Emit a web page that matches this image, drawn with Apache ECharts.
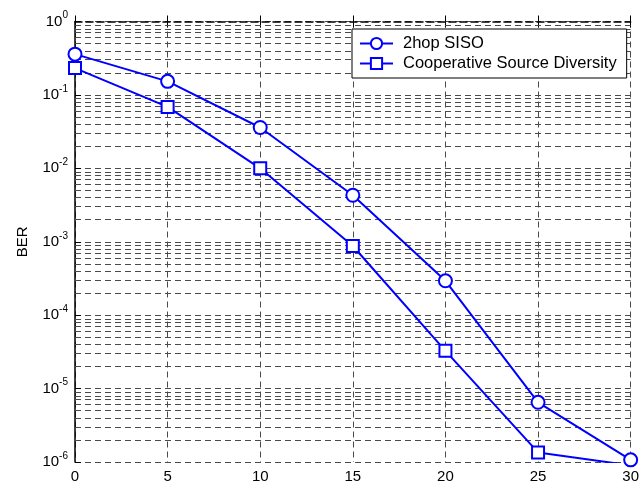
<!DOCTYPE html>
<html>
<head>
<meta charset="utf-8">
<script src="https://cdn.jsdelivr.net/npm/echarts@6/dist/echarts.min.js"></script>
<style>
html,body{margin:0;padding:0;background:#fff;}
#c{width:642px;height:484px;}
</style>
</head>
<body>
<div id="c"></div>
<script>
var snr = [0, 5, 10, 15, 20, 25, 30];
var berSiso = [0.359, 0.153, 0.036, 0.0043, 2.94e-4, 6.5e-6, 1.07e-6];
var berCoop = [0.232, 0.0687, 0.010, 8.75e-4, 3.27e-5, 1.35e-6, 9.0e-7];
var seriesNames = ['2hop SISO', 'Cooperative Source Diversity'];
var decadeExponents = [-6, -5, -4, -3, -2, -1];
var minorMultipliers = [2, 3, 4, 5, 6, 7, 8, 9];

// minor grid positions expressed in log10 space (for a hidden linear helper axis)
var minorGrid = [];
decadeExponents.forEach(function (k) {
  minorMultipliers.forEach(function (m) {
    minorGrid.push({ yAxis: Math.log10(m) + k });
  });
});

function pairs(xs, ys) {
  return xs.map(function (x, i) { return [x, ys[i]]; });
}

var FONT = 'Liberation Sans, Arial, sans-serif';
var gridDash = { color: '#4a4a4a', width: 1, type: [6, 4] };

var chart = echarts.init(document.getElementById('c'), null, { renderer: 'canvas' });
chart.setOption({
  animation: false,
  backgroundColor: '#fff',
  textStyle: { fontFamily: FONT },
  grid: { left: 75, right: 3, top: 21.5, bottom: 20 },
  legend: {
    data: seriesNames,
    orient: 'vertical',
    left: 352,
    top: 29,
    z: 50,
    padding: [6, 10, 6, 7],
    itemWidth: 33,
    itemHeight: 14,
    itemGap: 3,
    backgroundColor: '#fff',
    borderColor: '#000',
    borderWidth: 1,
    borderRadius: 0,
    textStyle: { fontSize: 16.5, color: '#000', padding: [0, 0, 0, 5], fontFamily: FONT }
  },
  xAxis: [{
    type: 'value',
    min: 0,
    max: 30,
    interval: 5,
    axisLine: { show: true, lineStyle: { color: '#000', width: 1.5, type: [7, 4] } },
    axisTick: { show: true, inside: true, length: 6, lineStyle: { color: '#000' } },
    axisLabel: { color: '#000', fontSize: 15, margin: 7, fontFamily: FONT },
    splitLine: { show: true, lineStyle: gridDash }
  }, {
    type: 'value',
    position: 'top',
    min: 0,
    max: 30,
    interval: 5,
    axisLine: { show: false },
    axisTick: { show: true, inside: true, length: 6, lineStyle: { color: '#000' } },
    axisLabel: { show: false },
    splitLine: { show: false }
  }],
  yAxis: [{
    type: 'log',
    logBase: 10,
    min: 1e-6,
    max: 1,
    splitNumber: 6,
    name: 'BER',
    nameLocation: 'middle',
    nameGap: 45,
    nameTextStyle: { color: '#000', fontSize: 15, fontFamily: FONT },
    axisLine: { show: true, lineStyle: { color: '#000', width: 1.5 } },
    axisTick: { show: true, inside: true, length: 6, lineStyle: { color: '#000' } },
    axisLabel: {
      margin: 7,
      formatter: function (v) {
        var e = Math.round(Math.log10(v));
        return '{b|10}{s|' + e + '}';
      },
      rich: {
        b: { fontSize: 15, color: '#000', fontFamily: FONT },
        s: { fontSize: 10, color: '#000', padding: [0, 0, 12, 0], fontFamily: FONT }
      }
    },
    splitLine: { show: true, lineStyle: gridDash }
  }, {
    type: 'value',
    min: -6,
    max: 0,
    show: false
  }],
  series: [{
    name: 'minor-grid',
    type: 'line',
    yAxisIndex: 1,
    data: [],
    silent: true,
    z: 1,
    markLine: {
      silent: true,
      symbol: ['none', 'none'],
      label: { show: false },
      lineStyle: gridDash,
      emphasis: { disabled: true },
      data: minorGrid
    }
  }, {
    name: seriesNames[0],
    type: 'line',
    data: pairs(snr, berSiso),
    symbol: 'circle',
    symbolSize: 13,
    showAllSymbol: true,
    clip: true,
    itemStyle: { color: '#fff', borderColor: '#0000ff', borderWidth: 2 },
    lineStyle: { color: '#0000ff', width: 2 },
    z: 5
  }, {
    name: seriesNames[1],
    type: 'line',
    data: pairs(snr, berCoop),
    symbol: 'rect',
    symbolSize: 12,
    showAllSymbol: true,
    clip: true,
    itemStyle: { color: '#fff', borderColor: '#0000ff', borderWidth: 2 },
    lineStyle: { color: '#0000ff', width: 2 },
    z: 5
  }]
});
</script>
</body>
</html>
